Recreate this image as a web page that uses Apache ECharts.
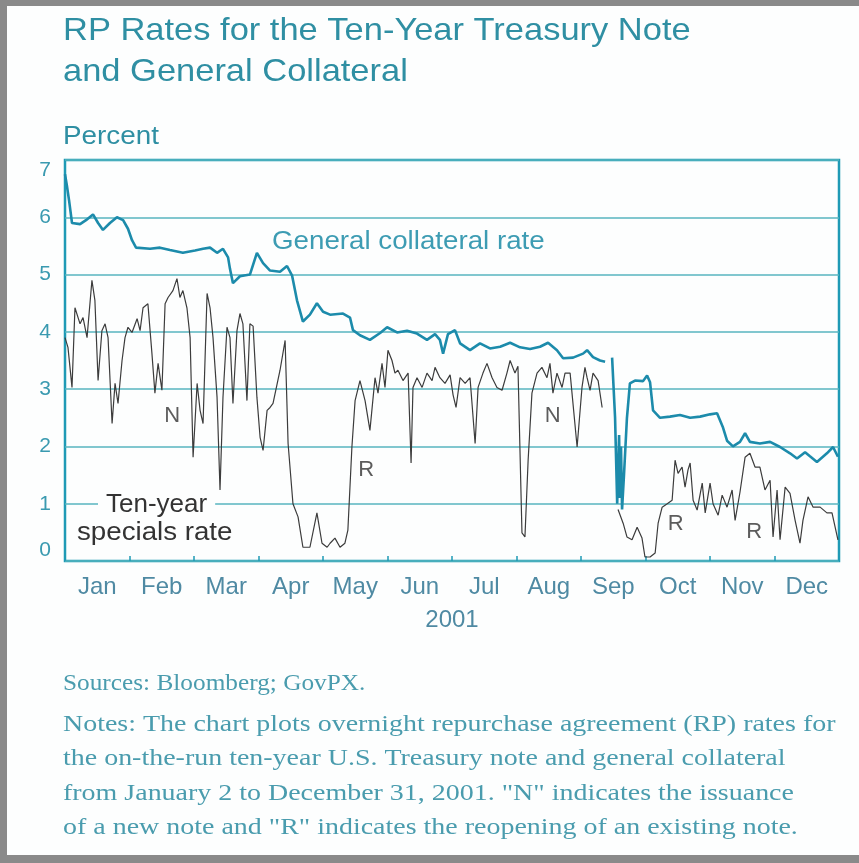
<!DOCTYPE html>
<html>
<head>
<meta charset="utf-8">
<script src="https://cdn.jsdelivr.net/npm/echarts@6/dist/echarts.min.js"></script>
<style>
  html, body { margin: 0; padding: 0; }
  body { width: 859px; height: 863px; background: #8a8a8a; position: relative; overflow: hidden; }
  #paper { position: absolute; left: 7px; top: 6px; width: 852px; height: 849px; background: #fdfefe; }
  #chart { position: absolute; left: 0; top: 0; width: 859px; height: 863px; }
</style>
</head>
<body>
<div id="paper"></div>
<div id="chart"></div>
<script>
// ---- data (x = day of year 2001, y = percent) ----
const months = ['Jan','Feb','Mar','Apr','May','Jun','Jul','Aug','Sep','Oct','Nov','Dec'];
const yearLabel = '2001';

const gcDays = [0,0.9,1.9,3.3,7.1,9.9,13.2,15.6,17.9,21.2,24.5,27.4,29.7,31.6,33.5,40.1,44.8,49.5,55.6,61.3,65.1,68.4,71.7,74.5,76.9,77.8,79.2,82.5,87.2,90.5,93.4,96.7,101.4,104.7,107.1,109.4,112.2,115.5,118.8,121.7,125,131.1,134.4,135.8,139.1,143.8,148.6,151.9,156.6,161.3,166,170.7,174.5,176.8,178.3,180.6,183.9,186.3,191,195.7,200.4,205.2,209.9,214.6,219.3,224,227.8,232,234.9,239.6,244.3,246.2,249,252.3,254.7,256.5,258,259.4,260.4,261.3,261.7,262.2,262.7,263.6,265,266.4,268.8,272.6,274.5,275.9,277.3,280.6,285.3,290,294.8,299.5,304.2,307.5,310.3,312.2,315,318.3,320.7,323,327.7,332.5,337.2,341.9,345.2,349,351.3,354.6,359.3,362.2,364.5];
const gcRates = [6.75,6.55,6.3,5.9,5.88,5.95,6.05,5.9,5.78,5.9,6.0,5.95,5.8,5.6,5.47,5.45,5.47,5.43,5.38,5.42,5.45,5.47,5.38,5.45,5.3,5.1,4.85,4.97,5.0,5.38,5.2,5.07,5.05,5.15,4.98,4.55,4.18,4.3,4.5,4.35,4.3,4.32,4.25,4.03,3.94,3.86,3.98,4.08,3.99,4.02,3.97,3.86,3.96,3.86,3.62,3.96,4.03,3.8,3.68,3.8,3.71,3.74,3.81,3.73,3.7,3.74,3.81,3.68,3.54,3.55,3.62,3.68,3.56,3.5,3.48,null,3.55,2.5,1.0,2.2,1.1,2.0,0.9,1.5,2.5,3.1,3.15,3.14,3.24,3.12,2.63,2.5,2.52,2.55,2.5,2.52,2.56,2.58,2.33,2.1,2.0,2.08,2.23,2.08,2.05,2.08,1.99,1.88,1.79,1.9,1.83,1.73,1.88,1.99,1.82];

const specDays = [0,1.4,3.3,4.7,7.1,8.5,10.4,12.7,14.1,15.6,17.4,18.9,20.3,22.2,23.6,25,26.9,28.3,29.7,31.6,34,35.4,36.8,39.1,41,42.4,43.9,45.7,47.2,48.6,50.9,52.8,54.2,55.6,57.5,59,60.4,62.3,63.7,65.1,67,68.4,69.8,71.7,73.1,74.5,76.4,77.8,79.2,81.1,82.5,83.9,85.8,87.2,88.7,90.5,92,93.4,95.3,96.7,98.1,101.4,103.8,105.2,107.5,109.9,112.2,115.5,118.8,121.2,123.6,125,127.3,129.7,132,133.4,135.3,136.8,139.1,141.5,143.8,146.2,147.6,149.5,150.9,152.3,154.2,155.6,157,159.4,161.8,163.2,164.1,166,168.4,170.7,173.1,174.5,176.8,179.2,181.6,183,184.4,186.3,188.7,191,193.4,194.8,197.1,199,201.4,203.7,206.1,208.4,209.9,212.2,213.6,215.5,216.9,218.4,220.2,222.6,224.9,227.3,228.7,230.1,232,234.4,235.8,238.2,241.5,243.8,245.2,246.2,247.6,249,251.4,253.3,257,260.8,263.2,265,267.4,269.8,272.1,273.5,275.9,278.3,279.7,281.6,284,286.3,287.7,289.1,291,292.4,293.8,294.8,296.2,298.1,300.5,301.9,304.2,305.6,308,309.9,312.2,314.6,316,318.3,320.7,323,325.4,327.7,330.1,332.5,333.9,335.8,337.2,339.6,341.9,344.3,346.6,348,350.4,352.8,356.1,359.3,361.7,364.5];
const specRates = [3.9,3.73,3.03,4.42,4.14,4.25,3.9,4.9,4.55,3.15,4.02,4.14,3.9,2.4,3.1,2.75,3.5,3.9,4.08,3.99,4.23,4.02,4.42,4.49,3.62,2.93,3.45,2.98,4.49,4.6,4.72,4.93,4.6,4.72,4.42,3.9,1.81,3.1,2.63,2.4,4.67,4.42,3.9,2.86,1.24,2.86,4.08,3.9,2.75,4.02,4.32,4.14,2.8,4.14,4.1,2.86,2.16,1.93,2.63,2.68,2.75,3.33,3.85,2.05,1.0,0.77,0.24,0.24,0.84,0.31,0.24,0.31,0.4,0.24,0.31,0.54,1.99,2.8,3.15,2.8,2.28,3.2,2.93,3.45,3.03,3.68,3.5,3.28,3.33,3.15,3.28,1.71,3.03,3.2,3.03,3.28,3.15,3.38,3.2,3.1,3.25,2.9,2.68,3.2,3.1,3.2,2.05,3.03,3.28,3.45,3.2,3.03,2.98,3.28,3.5,3.28,3.4,0.49,0.42,1.76,2.93,3.28,3.38,3.2,3.45,2.93,3.28,3.03,3.28,3.28,1.99,3.03,3.38,3.2,2.98,3.28,3.15,2.68,null,0.9,0.66,0.42,0.37,0.59,0.4,0.07,0.07,0.14,0.66,0.94,1.0,1.06,1.76,1.53,1.64,1.29,1.59,1.71,1.06,0.89,1.36,0.84,1.36,1.0,0.8,1.15,0.94,1.24,0.71,1.2,1.81,1.88,1.64,1.64,1.24,1.41,0.42,1.24,0.37,1.29,1.18,0.71,0.31,0.71,1.12,0.94,0.94,0.84,0.84,0.37];

// issuance (N) and reopening (R) markers
const markText = ['N','R','N','R','R'];
const markDays = [50.5,142,230,288,325];
const markVals = [2.54,1.59,2.54,0.64,0.5];

const toPairs = (xs, ys) => xs.map((x, i) => [x, ys[i] === null ? '-' : ys[i]]);

const SANS = '"Liberation Sans", Arial, sans-serif';
const SERIF = '"Liberation Serif", "Times New Roman", serif';
const chart = echarts.init(document.getElementById('chart'), null, { renderer: 'canvas' });
chart.setOption({
  backgroundColor: 'transparent',
  animation: false,
  grid: { left: 65, right: 20, top: 160, bottom: 302, show: true, borderColor: '#1f9ab5', borderWidth: 2.5, backgroundColor: 'transparent' },
  xAxis: [
    { type: 'value', min: 0, max: 365, show: false },
    { type: 'category', data: months, boundaryGap: true, position: 'bottom',
      axisLine: { show: false },
      axisTick: { show: true, inside: true, length: 5, lineStyle: { color: '#1f9ab5', width: 1.5 } },
      axisLabel: { color: '#4f8aa3', fontSize: 24, fontFamily: SANS, margin: 14 },
      name: yearLabel, nameLocation: 'middle', nameGap: 47,
      nameTextStyle: { color: '#4f8aa3', fontSize: 24, fontFamily: SANS } }
  ],
  yAxis: {
    type: 'value', min: 0, max: 7, interval: 1,
    axisLine: { show: false }, axisTick: { show: false },
    axisLabel: { color: '#3a9ab0', fontSize: 21, fontFamily: SANS, margin: 14,
      verticalAlignMinLabel: 'bottom', verticalAlignMaxLabel: 'top' },
    splitLine: { lineStyle: { color: '#57b5bf', width: 1.6 } }
  },
  series: [
    { type: 'line', xAxisIndex: 0, data: toPairs(specDays, specRates), showSymbol: false, symbol: 'none',
      lineStyle: { color: '#3c3c3c', width: 1.2 }, connectNulls: false, z: 3 },
    { type: 'line', xAxisIndex: 0, data: toPairs(gcDays, gcRates), showSymbol: false, symbol: 'none',
      lineStyle: { color: '#1c8bab', width: 2.6 }, connectNulls: false, z: 4 },
    { type: 'scatter', xAxisIndex: 0, symbolSize: 0, z: 5,
      data: markDays.map((d, i) => ({ value: [d, markVals[i]], name: markText[i] })),
      label: { show: true, position: 'inside', formatter: p => p.name, color: '#333', fontSize: 22,
        fontFamily: SANS } }
  ],
  graphic: [
    { type: 'text', x: 63, y: 31, scaleX: 1.077, z: 100, style: { text: 'RP Rates for the Ten-Year Treasury Note', fill: '#2f8fa3', font: '32px ' + SANS, textVerticalAlign: 'middle' } },
    { type: 'text', x: 63, y: 72, scaleX: 1.077, z: 100, style: { text: 'and General Collateral', fill: '#2f8fa3', font: '32px ' + SANS, textVerticalAlign: 'middle' } },
    { type: 'text', x: 63, y: 137, scaleX: 1.07, z: 100, style: { text: 'Percent', fill: '#2f8fa3', font: '26px ' + SANS, textVerticalAlign: 'middle' } },
    { type: 'text', x: 272, y: 242, scaleX: 1.066, z: 100, style: { text: 'General collateral rate', fill: '#3d9cb3', font: '26px ' + SANS, textVerticalAlign: 'middle' } },
    { type: 'text', x: 98, y: 505, z: 100, style: { text: 'Ten-year', fill: '#333', font: '26px ' + SANS, textVerticalAlign: 'middle', backgroundColor: '#fdfefe', padding: [0, 8, 0, 8] } },
    { type: 'text', x: 77, y: 533, scaleX: 1.065, z: 100, style: { text: 'specials rate', fill: '#333', font: '26px ' + SANS, textVerticalAlign: 'middle' } },
    { type: 'text', x: 63, y: 684, scaleX: 1.1, z: 100, style: { text: 'Sources: Bloomberg; GovPX.', fill: '#4a9cae', font: '23px ' + SERIF, textVerticalAlign: 'middle' } },
    { type: 'text', x: 63, y: 707, scaleX: 1.165, z: 100, style: {
      text: 'Notes: The chart plots overnight repurchase agreement (RP) rates for\nthe on-the-run ten-year U.S. Treasury note and general collateral\nfrom January 2 to December 31, 2001. "N" indicates the issuance\nof a new note and "R" indicates the reopening of an existing note.',
      fill: '#4a9cae', font: '24px ' + SERIF, lineHeight: 34.5 } }
  ]
});
</script>
</body>
</html>
